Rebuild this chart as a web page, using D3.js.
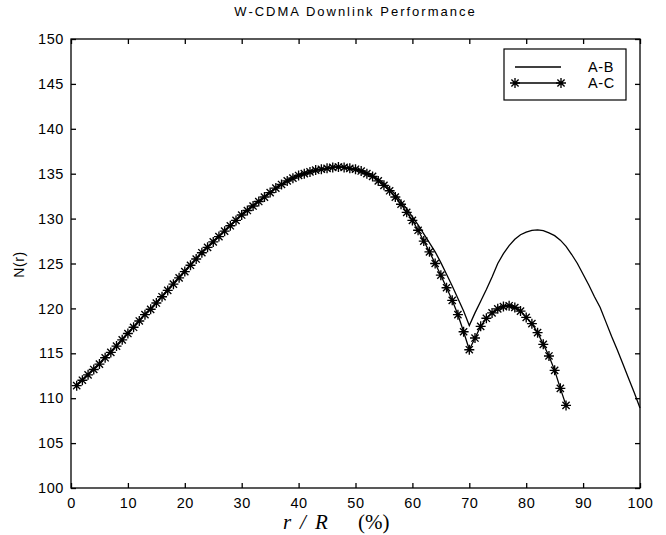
<!DOCTYPE html>
<html>
<head>
<meta charset="utf-8">
<script src="https://cdn.jsdelivr.net/npm/d3@7"></script>
<style>
  body { margin: 0; background: #fff; }
  svg { display: block; }
</style>
</head>
<body>
<svg></svg>
<script>
const WIDTH = 666;
const HEIGHT = 535;

// curve A-C (with asterisk markers)
const acX = [1, 2, 3, 4, 5, 6, 7, 8, 9, 10, 11, 12, 13, 14, 15, 16, 17, 18, 19, 20,
    21, 22, 23, 24, 25, 26, 27, 28, 29, 30, 31, 32, 33, 34, 35, 36, 37, 38, 39, 40,
    41, 42, 43, 44, 45, 46, 47, 48, 49, 50, 51, 52, 53, 54, 55, 56, 57, 58, 59, 60,
    61, 62, 63, 64, 65, 66, 67, 68, 69, 70, 71, 72, 73, 74, 75, 76, 77, 78, 79, 80,
    81, 82, 83, 84, 85, 86, 87];
const acY = [111.4, 112.0, 112.6, 113.2, 113.8, 114.5, 115.1, 115.8, 116.5, 117.2,
    117.9, 118.6, 119.3, 119.9, 120.6, 121.3, 122.0, 122.7, 123.4, 124.1,
    124.8, 125.5, 126.2, 126.8, 127.4, 128.0, 128.6, 129.2, 129.8, 130.4,
    130.9, 131.4, 131.9, 132.4, 132.9, 133.4, 133.8, 134.2, 134.5, 134.8,
    135.0, 135.2, 135.4, 135.5, 135.6, 135.7, 135.75, 135.7, 135.6, 135.5,
    135.3, 135.0, 134.7, 134.2, 133.7, 133.1, 132.4, 131.6, 130.7, 129.8,
    128.7, 127.5, 126.3, 125.0, 123.7, 122.3, 120.9, 119.3, 117.4, 115.4,
    116.7, 118.0, 118.9, 119.5, 119.95, 120.2, 120.3, 120.1, 119.7, 119.0,
    118.3, 117.3, 116.0, 114.7, 113.1, 111.1, 109.2];

// curve A-B (plain line)
const abX = [1, 2, 3, 4, 5, 6, 7, 8, 9, 10, 11, 12, 13, 14, 15, 16, 17, 18, 19, 20,
    21, 22, 23, 24, 25, 26, 27, 28, 29, 30, 31, 32, 33, 34, 35, 36, 37, 38, 39, 40,
    41, 42, 43, 44, 45, 46, 47, 48, 49, 50, 51, 52, 53, 54, 55, 56, 57, 58, 59, 60,
    61, 62, 63, 64, 65, 66, 67, 68, 69, 70, 71, 72, 73, 74, 75, 76, 77, 78, 79, 80,
    81, 82, 83, 84, 85, 86, 87, 88, 89, 90, 91, 92, 93, 94, 95, 96, 97, 98, 99, 100];
const abY = [111.5, 112.1, 112.7, 113.3, 113.9, 114.6, 115.2, 115.9, 116.6, 117.3,
    118.0, 118.7, 119.4, 120.0, 120.7, 121.4, 122.1, 122.8, 123.5, 124.2,
    124.9, 125.6, 126.3, 126.9, 127.5, 128.1, 128.7, 129.3, 129.9, 130.5,
    131.0, 131.5, 132.0, 132.5, 133.0, 133.4, 133.8, 134.2, 134.5, 134.8,
    135.0, 135.2, 135.4, 135.5, 135.6, 135.7, 135.75, 135.7, 135.6, 135.5,
    135.3, 135.1, 134.8, 134.4, 133.9, 133.3, 132.7, 131.9, 131.1, 130.2,
    129.3, 128.3, 127.3, 126.3, 125.1, 123.8, 122.5, 121.1, 119.7, 118.1,
    119.5, 120.8, 122.1, 123.5, 125.0, 126.1, 127.0, 127.7, 128.2, 128.5,
    128.7, 128.75, 128.65, 128.4, 128.1, 127.6, 126.9, 126.0, 125.0, 123.8,
    122.6, 121.3, 120.1, 118.5, 116.9, 115.4, 113.8, 112.2, 110.6, 108.9];

const xTicks = [0, 10, 20, 30, 40, 50, 60, 70, 80, 90, 100];
const yTicks = [100, 105, 110, 115, 120, 125, 130, 135, 140, 145, 150];
const legendLabels = ["A-B", "A-C"];

const margin = {top: 39, right: 26, bottom: 47, left: 71};
const plotW = WIDTH - margin.left - margin.right;
const plotH = HEIGHT - margin.top - margin.bottom;

// MATLAB-like '*' marker: plus and cross overlaid
const STAR = "M-5,0H5M0,-5V5M-3.6,-3.6L3.6,3.6M-3.6,3.6L3.6,-3.6";
const SANS = "Arial, 'Liberation Sans', Helvetica";

function drawChart(svg) {
    svg.attr("width", WIDTH).attr("height", HEIGHT);

    const x = d3.scaleLinear().domain([0, 100]).range([0, plotW]);
    const y = d3.scaleLinear().domain([100, 150]).range([plotH, 0]);

    const g = svg.append("g")
        .attr("transform", `translate(${margin.left},${margin.top})`);

    const tickFont = g => g
        .style("font-family", SANS)
        .style("font-size", "14.5px")
        .style("letter-spacing", "0.6px");

    // axes, ticks pointing inward on all four sides
    g.append("g")
        .attr("transform", `translate(0,${plotH})`)
        .call(d3.axisBottom(x).tickValues(xTicks).tickSize(-5).tickPadding(10).tickSizeOuter(0))
        .call(tickFont);

    g.append("g")
        .call(d3.axisLeft(y).tickValues(yTicks).tickSize(-5).tickPadding(7).tickSizeOuter(0))
        .call(tickFont);

    g.append("g")
        .call(d3.axisTop(x).tickValues(xTicks).tickSize(-5).tickFormat("").tickSizeOuter(0));

    g.append("g")
        .attr("transform", `translate(${plotW},0)`)
        .call(d3.axisRight(y).tickValues(yTicks).tickSize(-5).tickFormat("").tickSizeOuter(0));

    g.selectAll(".domain").remove();
    g.selectAll(".tick line").attr("stroke", "#000").attr("stroke-width", 1.3);
    g.selectAll(".tick text").attr("fill", "#000");

    g.append("rect")
        .attr("width", plotW)
        .attr("height", plotH)
        .attr("fill", "none")
        .attr("stroke", "#000")
        .attr("stroke-width", 1.3);

    const line = d3.line()
        .x(d => x(d[0]))
        .y(d => y(d[1]));

    const ab = abX.map((v, i) => [v, abY[i]]);
    const ac = acX.map((v, i) => [v, acY[i]]);

    g.append("path")
        .datum(ab)
        .attr("fill", "none")
        .attr("stroke", "#000")
        .attr("stroke-width", 1.3)
        .attr("d", line);

    g.append("path")
        .datum(ac)
        .attr("fill", "none")
        .attr("stroke", "#000")
        .attr("stroke-width", 1.3)
        .attr("d", line);

    g.selectAll("path.star")
        .data(ac)
        .enter().append("path")
        .attr("class", "star")
        .attr("transform", d => `translate(${x(d[0])},${y(d[1])})`)
        .attr("d", STAR)
        .attr("fill", "none")
        .attr("stroke", "#000")
        .attr("stroke-width", 1.35);

    // title
    svg.append("text")
        .attr("x", margin.left + plotW / 2)
        .attr("y", 16)
        .attr("text-anchor", "middle")
        .style("font-family", SANS)
        .style("font-size", "13px")
        .style("letter-spacing", "2px")
        .text("W-CDMA Downlink Performance");

    // y label
    svg.append("text")
        .attr("transform", `translate(24,${margin.top + plotH / 2 + 1}) rotate(-90)`)
        .attr("text-anchor", "middle")
        .style("font-family", SANS)
        .style("font-size", "14px")
        .style("letter-spacing", "0.6px")
        .text("N(r)");

    // x label: italic r / R, roman (%)
    const xl = svg.append("text")
        .attr("x", 283)
        .attr("y", 529)
        .style("font-family", "'Liberation Serif', 'Times New Roman', serif")
        .style("font-size", "21px");
    xl.append("tspan").style("font-style", "italic").text("r");
    xl.append("tspan").attr("x", 300).style("font-style", "italic").text("/");
    xl.append("tspan").attr("x", 315).style("font-style", "italic").text("R");
    xl.append("tspan").attr("x", 358).text("(%)");

    // legend
    const lg = svg.append("g").attr("transform", "translate(504,49)");
    lg.append("rect")
        .attr("width", 122)
        .attr("height", 51)
        .attr("fill", "#fff")
        .attr("stroke", "#000")
        .attr("stroke-width", 1.2);

    legendLabels.forEach((label, i) => {
        const ly = 18 + i * 16;
        lg.append("line")
            .attr("x1", 11).attr("x2", 57)
            .attr("y1", ly).attr("y2", ly)
            .attr("stroke", "#000")
            .attr("stroke-width", 1.3);
        if (label === "A-C") {
            [11, 57].forEach(px => {
                lg.append("path")
                    .attr("transform", `translate(${px},${ly})`)
                    .attr("d", STAR)
                    .attr("fill", "none")
                    .attr("stroke", "#000")
                    .attr("stroke-width", 1.35);
            });
        }
        lg.append("text")
            .attr("x", 84)
            .attr("y", ly + 5)
            .style("font-family", SANS)
            .style("font-size", "14.5px")
            .style("letter-spacing", "0.6px")
            .text(label);
    });
}

function onReady() {
    drawChart(d3.select("svg"));
}

document.addEventListener("DOMContentLoaded", onReady);
</script>
</body>
</html>
